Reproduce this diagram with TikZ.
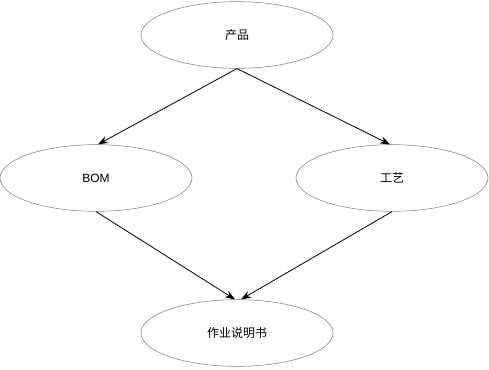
\documentclass[tikz,border=0pt]{standalone}
\usepackage{fontspec}
\setmainfont{Liberation Sans}
\newfontfamily\cjk{Noto Sans CJK SC}
\usetikzlibrary{arrows.meta,shapes.geometric}

\begin{document}
\begin{tikzpicture}[>={Stealth[length=7.5pt,width=5.5pt]}, x=0.75pt, y=-0.75pt,
    oval/.style={ellipse, draw=black!50, minimum width=144pt, minimum height=50pt, inner sep=0pt, font=\fontsize{9pt}{11pt}\selectfont},
    flow/.style={->, black, line width=0.6pt}]
        \useasboundingbox (0,0) rectangle (489,369);
        % 椭圆节点
        \node [oval] (prod) at (237,35) {\cjk 产品};
        \node [oval] (bom) at (96,178) {BOM};
        \node [oval] (proc) at (392,178) {\cjk 工艺};
        \node [oval] (doc) at (237,333) {\cjk 作业说明书};
        % 连线
        \draw [flow] (prod.south) -- ([xshift=1.5pt]bom.north);
        \draw [flow] (prod.south) -- ([xshift=-1.5pt]proc.north);
        \draw [flow] (bom.south) -- ([xshift=-1.5pt]doc.north);
        \draw [flow] (proc.south) -- ([xshift=3pt]doc.north);
    \end{tikzpicture}
\end{document}
